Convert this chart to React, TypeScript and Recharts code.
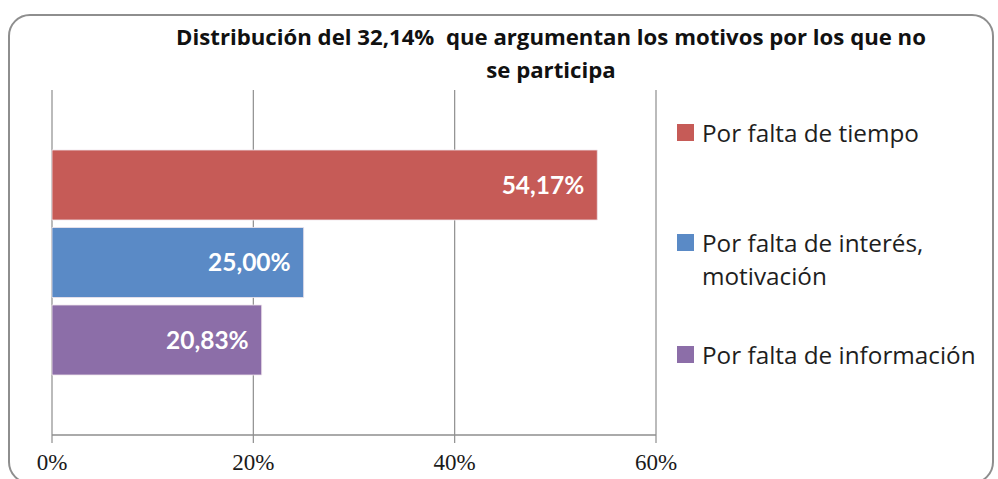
import { BarChart, Bar, XAxis, YAxis, CartesianGrid, Legend, LabelList } from "recharts";

const CATEGORIES = [""];
const SERIES_KEYS = ["tiempo", "interes", "informacion"];
const SERIES_NAMES = [
  "Por falta de tiempo",
  "Por falta de interés, motivación",
  "Por falta de información",
];
const SERIES_VALUES = [[54.17], [25.0], [20.83]];
const X_TICKS = [0, 20, 40, 60];
const TITLE_LINES = ["Distribución del 32,14%  que argumentan los motivos por los que no", "se participa"];

const COLORS = ["#C65B57", "#5A8AC6", "#8C6EA8"];
const LEGEND_TOPS = [0, 110, 222];
const SANS = "'Open Sans', Lato, sans-serif";
const LEGEND_W = 310;

const data = CATEGORIES.map((name, i) => {
  const row: Record<string, string | number> = { name };
  SERIES_KEYS.forEach((k, s) => (row[k] = SERIES_VALUES[s][i]));
  return row;
});

const fmt = (v: number) => v.toFixed(2).replace(".", ",") + "%";

// legend drawn in series order (recharts reverses it for vertical bar charts)
const renderLegend = () => (
  <div style={{ position: "relative", width: LEGEND_W, height: 280, fontFamily: SANS, fontSize: 24.3, color: "#1e1e1e" }}>
    {SERIES_NAMES.map((name, i) => (
      <div key={name} style={{ position: "absolute", left: 25, top: LEGEND_TOPS[i], width: 290, lineHeight: "33px" }}>
        <span style={{ position: "absolute", left: -25, top: 8, width: 17, height: 17, background: COLORS[i] }} />
        {name}
      </div>
    ))}
  </div>
);

export default function App() {
  return (
    <div style={{ position: "absolute", left: 0, top: 0, width: 998, height: 479, overflow: "hidden", background: "#fff" }}>
      <div
        style={{
          position: "absolute",
          left: 8,
          top: 14,
          width: 986,
          height: 470,
          border: "2px solid #8e8e8e",
          borderRadius: 22,
          boxSizing: "border-box",
        }}
      />
      <svg style={{ position: "absolute", left: 0, top: 0 }} width={998} height={90}>
        <text x={551} y={45} textAnchor="middle" fontFamily={SANS} fontWeight="bold" fontSize={22.2} fill="#111" style={{ whiteSpace: "pre" }}>
          {TITLE_LINES[0]}
        </text>
        <text x={551} y={78} textAnchor="middle" fontFamily={SANS} fontWeight="bold" fontSize={22.2} fill="#111">
          {TITLE_LINES[1]}
        </text>
      </svg>
      <div style={{ position: "absolute", left: 0, top: 0 }}>
        <BarChart
          width={998}
          height={479}
          data={data}
          layout="vertical"
          margin={{ top: 90, right: 342 - LEGEND_W, bottom: 0, left: 52 }}
          barSize={70}
          barGap={7.5}
        >
          <CartesianGrid horizontal={false} stroke="#8e8e8e" strokeWidth={1.2} />
          <XAxis
            type="number"
            domain={[0, 60]}
            ticks={X_TICKS}
            tickFormatter={(v) => v + "%"}
            height={44}
            tickSize={8}
            tickMargin={11}
            axisLine={{ stroke: "#8e8e8e", strokeWidth: 1.5 }}
            tickLine={{ stroke: "#8e8e8e", strokeWidth: 1.2 }}
            tick={{ fill: "#1a1a1a", fontSize: 23, fontFamily: "'Liberation Serif', serif" }}
          />
          <YAxis type="category" dataKey="name" hide />
          <Legend
            layout="vertical"
            align="right"
            verticalAlign="top"
            wrapperStyle={{ left: 677, top: 116, width: LEGEND_W }}
            content={renderLegend}
          />
          {SERIES_KEYS.map((k, s) => (
            <Bar key={k} dataKey={k} name={SERIES_NAMES[s]} fill={COLORS[s]} stroke="#f0e6ec" strokeWidth={0.8} isAnimationActive={false}>
              <LabelList
                dataKey={k}
                position="insideRight"
                offset={13}
                formatter={(v: any) => fmt(Number(v))}
                fill="#fff"
                fontSize={24.5}
                fontWeight="bold"
                fontFamily="Lato, sans-serif"
              />
            </Bar>
          ))}
        </BarChart>
      </div>
    </div>
  );
}
